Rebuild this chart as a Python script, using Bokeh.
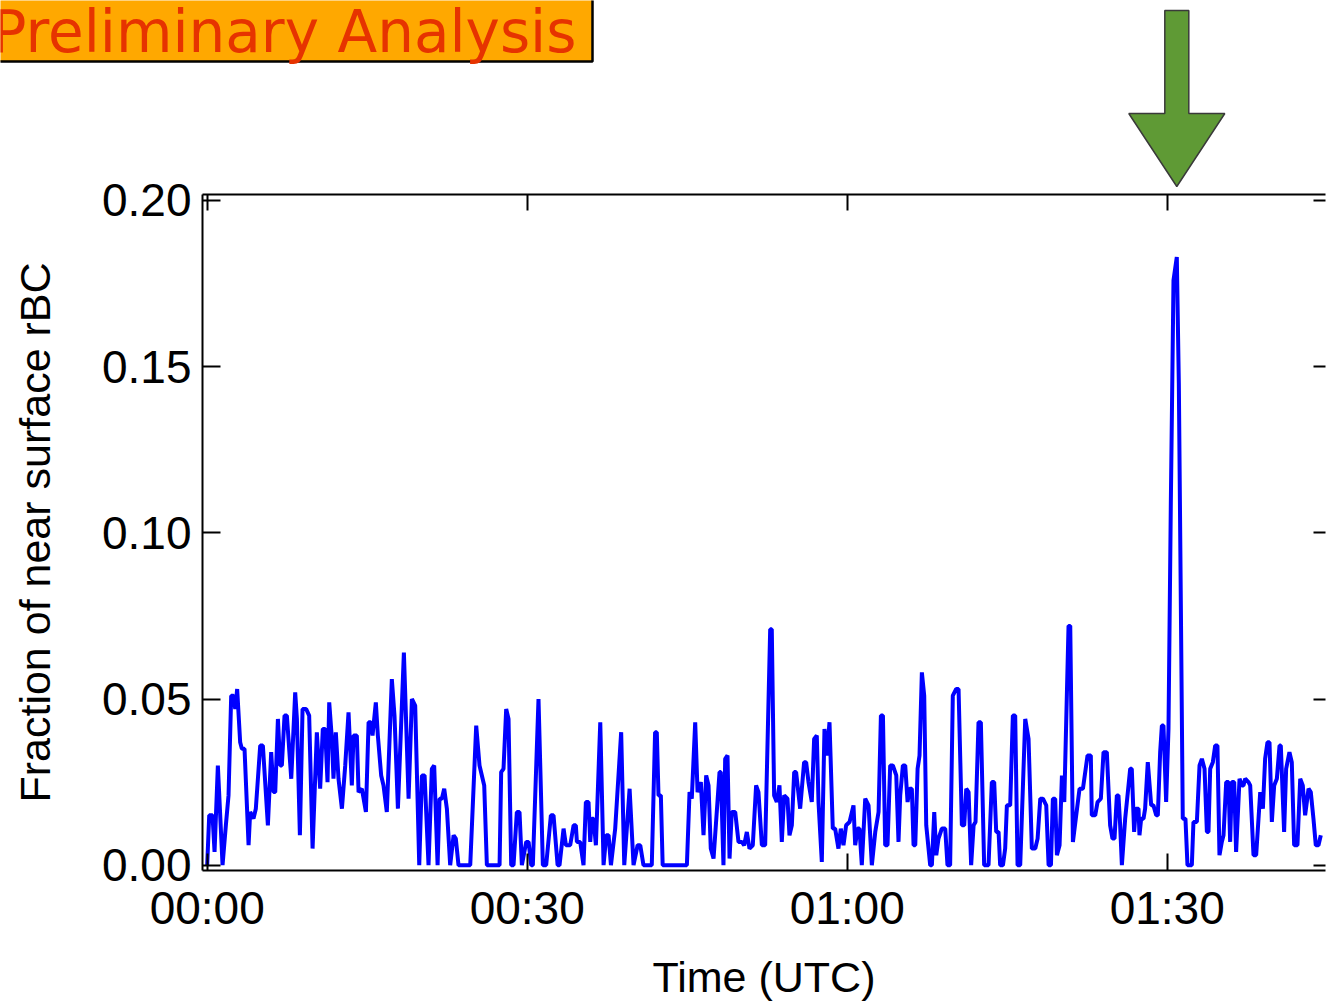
from bokeh.plotting import figure
from bokeh.layouts import column
from bokeh.models import (Range1d, LinearAxis, FixedTicker, NumeralTickFormatter,
                          CustomJSTickFormatter)
from bokeh.core.properties import value
from bokeh.embed import file_html
from bokeh.resources import INLINE

# ---------------- data ----------------
TIME_MIN = [
    0.0, 0.19, 0.5, 0.69, 1.0, 1.44, 1.75, 2.0, 2.25, 2.47, 2.63, 2.81, 3.09, 3.25, 3.5, 3.88,
    4.03, 4.34, 4.56, 4.97, 5.22, 5.69, 6.0, 6.22, 6.38, 6.63, 6.84, 7.0, 7.25, 7.47, 7.88,
    8.25, 8.41, 8.69, 8.94, 9.28, 9.56, 9.88, 10.28, 10.59, 10.84, 11.06, 11.28, 11.44, 11.69,
    11.84, 12.06, 12.31, 12.63, 12.94, 13.25, 13.56, 13.72, 14.03, 14.19, 14.5, 14.88, 15.13,
    15.34, 15.5, 15.81, 16.0, 16.31, 16.53, 16.84, 17.31, 17.56, 17.88, 18.44, 18.88, 19.19,
    19.5, 19.88, 20.13, 20.38, 20.75,
    21.06, 21.28, 21.6, 21.78, 22.0, 22.22, 22.47, 22.78, 23.1, 23.31, 23.56, 24.66, 25.22,
    25.53, 25.97, 26.22, 27.41, 27.56, 27.78, 28.03, 28.25, 28.5, 28.72, 29.03, 29.28, 29.5,
    29.91, 30.13, 30.38, 30.53, 31.06, 31.47, 31.78, 32.22, 32.47, 32.85, 33.03, 33.41, 33.63,
    34.03, 34.35, 34.56, 34.66, 34.97, 35.28, 35.5, 35.75, 35.91, 36.06, 36.22, 36.44, 36.85,
    37.16, 37.41, 37.63, 37.85, 38.25, 38.81, 39.1, 39.6, 39.97, 40.35, 40.6, 40.9,
    41.68, 41.99, 42.15, 42.31, 42.53, 42.7, 44.97, 45.22, 45.43, 45.75, 45.97, 46.28, 46.53,
    46.78, 47.0, 47.21, 47.47, 48.03, 48.15, 48.4, 48.56, 48.78, 48.97, 49.18, 49.5, 49.81,
    50.12, 50.34, 50.59, 50.84, 51.15, 51.46, 51.68, 52.0, 52.31, 52.78, 52.93, 53.15, 53.4,
    53.65, 53.87, 54.09, 54.4, 54.59, 54.81, 55.03, 55.21, 55.59, 55.96, 56.15, 56.37, 56.68,
    56.9, 57.15, 57.31, 57.62, 57.87, 58.09, 58.34, 58.65, 58.87, 59.18, 59.4, 59.65, 59.9,
    60.22, 60.59, 60.75, 60.97, 61.15, 61.37,
    61.69, 62.0, 62.31, 62.63, 62.94, 63.16, 63.35, 63.56, 63.78, 64.03, 64.28, 64.6, 64.81,
    64.97, 65.22, 65.44, 65.66, 65.85, 66.06, 66.22, 66.38, 66.6, 66.78, 67.0, 67.22, 67.41,
    67.78, 67.94, 68.16, 68.35, 68.56, 68.87, 69.19, 69.4, 69.65, 69.9, 70.22, 70.44, 70.75,
    70.97, 71.16, 71.38, 71.62, 71.85, 72.03, 72.31, 72.53, 72.84, 73.25, 73.56, 73.78, 73.97,
    74.19, 74.34, 74.6, 74.81, 74.97, 75.28, 75.53, 75.75, 75.97, 76.22, 76.69, 77.0, 77.31,
    77.63, 77.85, 78.1, 78.35, 78.66, 78.88, 79.1, 79.28, 79.5, 79.66, 79.91, 80.13, 80.35,
    80.75, 80.91, 81.16, 81.47, 81.78, 82.1,
    82.53, 82.84, 82.93, 83.25, 83.47, 83.78, 84.03, 84.34, 84.65, 84.87, 85.06, 85.28, 85.43,
    85.59, 85.75, 86.06, 86.53, 86.68, 86.9, 87.06, 87.31, 87.4, 87.56, 87.78, 87.93, 88.18,
    88.5, 88.71, 88.97, 89.12, 89.34, 89.5, 89.65, 89.9, 90.12, 90.34, 90.59, 90.9, 91.09,
    91.28, 91.46, 91.71, 91.9, 92.31, 92.46, 92.78, 93.03, 93.25, 93.5, 93.72, 93.87, 94.03,
    94.28, 94.5, 94.71, 94.9, 95.12, 95.28, 95.53, 95.75, 95.9, 96.06, 96.28, 96.46, 96.78,
    97.0, 97.15, 97.31, 97.62, 97.78, 98.09, 98.34, 98.72, 98.97, 99.18, 99.4, 99.59, 99.81,
    100.03, 100.28, 100.53, 100.65, 100.96, 101.15, 101.46, 101.68, 101.9, 102.21, 102.47,
    102.71, 102.93, 103.25, 103.46, 103.71, 103.93, 104.18, 104.4,
]

FRACTION = [
    0.0, 0.015, 0.015, 0.004, 0.030, 0.0, 0.012, 0.021, 0.051, 0.051, 0.047, 0.053, 0.037, 0.035, 0.035, 0.006,
    0.016, 0.014, 0.017, 0.036, 0.036, 0.012, 0.034, 0.022, 0.022, 0.044, 0.030, 0.030, 0.045, 0.045, 0.026,
    0.052, 0.044, 0.009, 0.047, 0.047, 0.045, 0.005, 0.040, 0.023, 0.041, 0.041, 0.025, 0.049, 0.038,
    0.026, 0.040, 0.026, 0.017, 0.030, 0.046, 0.024, 0.039, 0.039, 0.022, 0.023, 0.016, 0.043,
    0.043, 0.039, 0.049, 0.039, 0.027, 0.024, 0.016, 0.056, 0.045, 0.017, 0.064, 0.020, 0.050,
    0.048, 0.0, 0.027, 0.027, 0.0,
    0.029, 0.030, 0.0, 0.020, 0.020, 0.023, 0.017, 0.0, 0.009, 0.008, 0.0, 0.0, 0.042,
    0.030, 0.024, 0.0, 0.0, 0.028, 0.029, 0.047, 0.044, 0.0, 0.0, 0.016, 0.016, 0.0,
    0.007, 0.007, 0.0, 0.0, 0.050, 0.0, 0.0, 0.015, 0.015, 0.0, 0.0, 0.011, 0.006,
    0.006, 0.012, 0.012, 0.007, 0.007, 0.0, 0.019, 0.019, 0.007, 0.014, 0.014, 0.006, 0.043,
    0.0, 0.009, 0.009, 0.0, 0.011, 0.040, 0.0, 0.023, 0.0, 0.006, 0.006, 0.0,
    0.0, 0.040, 0.040, 0.021, 0.021, 0.0, 0.0, 0.022, 0.020, 0.043, 0.022, 0.025, 0.009,
    0.027, 0.024, 0.005, 0.002, 0.028, 0.028, 0.0, 0.032, 0.033, 0.002, 0.016, 0.016, 0.007,
    0.007, 0.006, 0.010, 0.005, 0.006, 0.024, 0.022, 0.006, 0.006, 0.071, 0.071, 0.021, 0.019,
    0.024, 0.007, 0.021, 0.020, 0.009, 0.012, 0.028, 0.028, 0.017, 0.031, 0.031, 0.025, 0.019,
    0.038, 0.039, 0.019, 0.001, 0.041, 0.033, 0.043, 0.011, 0.011, 0.005, 0.011, 0.006, 0.012,
    0.013, 0.018, 0.006, 0.011, 0.011, 0.0,
    0.020, 0.018, 0.0, 0.010, 0.016, 0.045, 0.045, 0.006, 0.006, 0.030, 0.030, 0.027, 0.007,
    0.021, 0.030, 0.030, 0.019, 0.023, 0.023, 0.006, 0.006, 0.029, 0.033, 0.058, 0.051, 0.012,
    0.0, 0.0, 0.016, 0.003, 0.008, 0.011, 0.011, 0.0, 0.0, 0.051, 0.053, 0.053, 0.012,
    0.012, 0.023, 0.022, 0.0, 0.012, 0.013, 0.043, 0.043, 0.0, 0.0, 0.025, 0.025, 0.010,
    0.010, 0.0, 0.0, 0.005, 0.018, 0.018, 0.045, 0.045, 0.0, 0.0, 0.044, 0.038, 0.005,
    0.005, 0.008, 0.020, 0.020, 0.018, 0.0, 0.0, 0.020, 0.020, 0.003, 0.006, 0.027, 0.019,
    0.072, 0.072, 0.007, 0.015, 0.023, 0.023,
    0.033, 0.033, 0.015, 0.015, 0.019, 0.020, 0.034, 0.034, 0.012, 0.008, 0.008, 0.021, 0.021,
    0.012, 0.0, 0.014, 0.029, 0.029, 0.010, 0.017, 0.017, 0.009, 0.014, 0.014, 0.017, 0.031,
    0.018, 0.018, 0.015, 0.015, 0.034, 0.042, 0.042, 0.019, 0.041, 0.109, 0.176, 0.183, 0.145,
    0.078, 0.014, 0.014, 0.0, 0.0, 0.013, 0.013, 0.030, 0.032, 0.029, 0.010, 0.010, 0.029,
    0.031, 0.036, 0.036, 0.003, 0.007, 0.009, 0.025, 0.025, 0.007, 0.025, 0.025, 0.004, 0.026,
    0.024, 0.024, 0.026, 0.025, 0.024, 0.003, 0.003, 0.022, 0.017, 0.032, 0.037, 0.037, 0.013,
    0.024, 0.026, 0.036, 0.036, 0.010, 0.029, 0.034, 0.031, 0.006, 0.006, 0.026,
    0.024, 0.015, 0.023, 0.022, 0.014, 0.006, 0.006, 0.009,
]

X_TICKS = [0, 30, 60, 90]
X_TICK_LABELS = ["00:00", "00:30", "01:00", "01:30"]
Y_TICKS = [0.0, 0.05, 0.10, 0.15, 0.20]

TITLE_TEXT = ["Preliminary Analysis"]
X_LABEL = "Time (UTC)"
Y_LABEL = "Fraction of near surface rBC"

# ---------------- layout constants ----------------
W = 1326
FRAME_T = 194                # page y of frame top
OVERLAP = 24                 # main chart's transparent top border overlaps the strip
TOP_H = FRAME_T              # decoration strip height
FRAME_L, FRAME_R = 202, 1325
FONT = "Liberation Sans"
X0, X1 = -0.44, 104.84
Y0, Y1 = -0.0016, 0.2018

def no_frame_align(fig):
    if "frame_align" in fig.properties():
        fig.frame_align = False

# ---------------- main chart ----------------
p = figure(width=W, height=1003 - TOP_H + OVERLAP, output_backend="svg", toolbar_location=None,
           x_range=Range1d(X0, X1), y_range=Range1d(Y0, Y1),
           x_axis_location=None, y_axis_location=None,
           min_border_left=FRAME_L, min_border_right=W - FRAME_R,
           min_border_top=OVERLAP, min_border_bottom=131)
no_frame_align(p)
p.margin = (-OVERLAP, 0, 0, 0)
p.outline_line_color = None
p.xgrid.visible = False
p.ygrid.visible = False
p.background_fill_color = "white"
p.border_fill_color = None

overrides = {t: lab for t, lab in zip(X_TICKS, X_TICK_LABELS)}
blank = CustomJSTickFormatter(code="return ''")

def style_axis(ax, tick_in, labels=True):
    ax.axis_line_width = 2
    ax.axis_line_color = "black"
    ax.major_tick_line_width = 2
    ax.major_tick_line_color = "black"
    ax.major_tick_in = tick_in
    ax.major_tick_out = 0
    ax.minor_tick_line_color = None
    if labels:
        ax.major_label_text_font = FONT
        ax.major_label_text_font_size = "46px"
        ax.major_label_text_color = "black"
        ax.major_label_standoff = 11
    else:
        ax.major_label_standoff = 0

xb = LinearAxis(ticker=FixedTicker(ticks=X_TICKS), major_label_overrides=overrides)
style_axis(xb, 17)
xb.axis_label = X_LABEL
xb.axis_label_text_font = FONT
xb.axis_label_text_font_size = "43px"
xb.axis_label_text_font_style = "normal"
xb.axis_label_text_color = "black"
xb.axis_label_standoff = 16
p.add_layout(xb, "below")

xt = LinearAxis(ticker=FixedTicker(ticks=X_TICKS), formatter=blank)
style_axis(xt, 16, labels=False)
p.add_layout(xt, "above")

yl = LinearAxis(ticker=FixedTicker(ticks=Y_TICKS), formatter=NumeralTickFormatter(format="0.00"))
style_axis(yl, 18)
yl.axis_label = Y_LABEL
yl.axis_label_text_font = FONT
yl.axis_label_text_font_size = "43px"
yl.axis_label_text_font_style = "normal"
yl.axis_label_text_color = "black"
yl.axis_label_standoff = 40
p.add_layout(yl, "left")

yr = LinearAxis(ticker=FixedTicker(ticks=Y_TICKS), formatter=blank)
style_axis(yr, 12, labels=False)
yr.axis_line_color = None
p.add_layout(yr, "right")

p.line(TIME_MIN, FRACTION, line_color="#0000FF", line_width=4)

# ---------------- decoration strip (title box + arrow) ----------------
d = figure(width=W, height=TOP_H, output_backend="svg", toolbar_location=None,
           x_range=Range1d(0, W), y_range=Range1d(TOP_H, 0),
           x_axis_location=None, y_axis_location=None,
           min_border_left=0, min_border_right=0, min_border_top=0, min_border_bottom=0)
no_frame_align(d)
d.outline_line_color = None
d.xgrid.visible = False
d.ygrid.visible = False
d.background_fill_color = "white"
d.border_fill_color = "white"

d.quad(left=[-10], right=[592], top=[-10], bottom=[61],
       fill_color="#FFA800", line_color="black", line_width=2.5)
d.text(x=[-9], y=[31], text=TITLE_TEXT, text_font=value("DejaVu Sans"),
       text_font_size="58px", text_color="#E63300", text_baseline="alphabetic",
       text_align="left")

i_peak = max(range(len(FRACTION)), key=lambda i: FRACTION[i])
t_peak = TIME_MIN[i_peak]
cx = FRAME_L + (t_peak - X0) / (X1 - X0) * (FRAME_R - FRAME_L)
shaft, head = 12, 48
axs = [cx - shaft, cx + shaft, cx + shaft, cx + head, cx, cx - head, cx - shaft]
ays = [10, 10, 113, 113, 186, 113, 113]
d.patch(axs, ays, fill_color="#5F9A35", line_color="#3A3A3A", line_width=1.5)

layout = column(d, p, spacing=0)
open("out.html", "w").write(file_html(layout, INLINE))
